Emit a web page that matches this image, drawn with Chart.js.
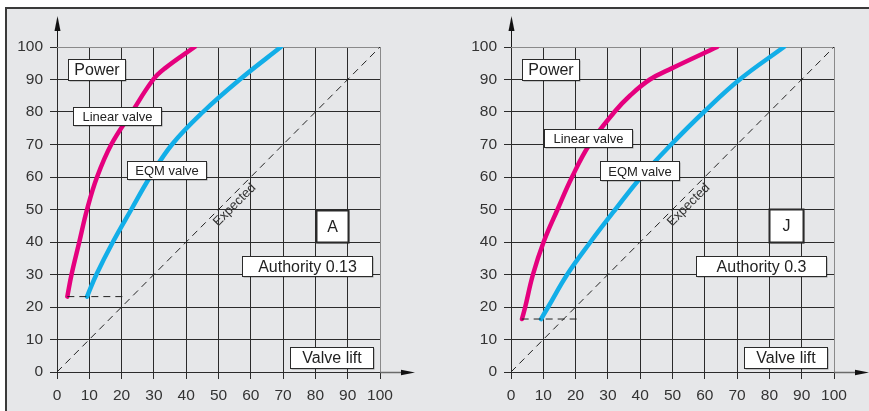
<!DOCTYPE html>
<html>
<head>
<meta charset="utf-8">
<script src="https://cdn.jsdelivr.net/npm/chart.js@4.4.1/dist/chart.umd.min.js"></script>
<style>
  html, body { margin: 0; padding: 0; background: #fff; }
  body { width: 869px; height: 411px; overflow: hidden; position: relative; }
  #frame { position: absolute; left: 5px; top: 7px; width: 900px; height: 430px;
           background: #e6e7e9; border-left: 2px solid #3a3a3a; border-top: 2px solid #3a3a3a; }
  canvas { position: absolute; top: 0; }
  #leftChart { left: 0; }
  #rightChart { left: 434px; }
</style>
</head>
<body>
<div id="frame"></div>
<canvas id="leftChart" width="434" height="411"></canvas>
<canvas id="rightChart" width="435" height="411"></canvas>
<script>
// ----------------------------------------
// Valve characteristics - Power vs Valve lift
// ----------------------------------------

const FONT = '"Liberation Sans", Arial, Helvetica, sans-serif';
const PINK = '#e5007e';
const BLUE = '#12aee8';

// Axis ticks (both axes, both panels)
const axisTicks = [0, 10, 20, 30, 40, 50, 60, 70, 80, 90, 100];

// Expected (ideal) characteristic
const expectedLift = [0, 100];
const expectedPower = [0, 100];

// Panel A - authority 0.13
const leftLinearLift = [3.2, 4.5, 6.9, 9.3, 12.4, 16.8, 23.2, 29.8, 33.5, 42.6];
const leftLinearPower = [23.2, 30, 40, 50, 60, 70, 80, 90, 93.5, 100];
const leftEqmLift = [9.3, 12.2, 17.3, 23.0, 28.8, 35.6, 45.2, 56.6, 69.3];
const leftEqmPower = [23.2, 30, 40, 50, 60, 70, 80, 90, 100];
const leftStartLift = [3.2, 20.5];
const leftStartPower = [23.2, 23.2];

// Panel J - authority 0.3
const rightLinearLift = [3.4, 4.4, 6.8, 10.1, 14.4, 18.9, 24.3, 32.0, 36.8, 43.0, 49.9, 63.8];
const rightLinearPower = [16.3, 20, 30, 40, 50, 60, 70, 80, 85, 90, 93.5, 100];
const rightEqmLift = [9.3, 11.5, 17.4, 24.6, 32.3, 40.3, 49.6, 59.7, 70.8, 84.5];
const rightEqmPower = [16.3, 20, 30, 40, 50, 60, 70, 80, 90, 100];
const rightStartLift = [3.3, 20.7];
const rightStartPower = [16.3, 16.3];

const toPoints = (xs, ys) => xs.map((x, i) => ({ x: x, y: ys[i] }));

// Draws the axis arrows, the label boxes and the rotated "Expected" text
const diagramDecor = {
    id: 'diagramDecor',
    afterDatasetsDraw(chart, args, opts) {
        const { ctx, chartArea: a, scales } = chart;
        const px = v => scales.x.getPixelForValue(v);
        const py = v => scales.y.getPixelForValue(v);
        const x0 = Math.round(a.left) + 0.5;
        const y0 = Math.round(a.bottom) + 0.5;
        ctx.save();

        // y axis extension + arrow
        ctx.strokeStyle = '#1a1a1a';
        ctx.lineWidth = 1;
        ctx.beginPath();
        ctx.moveTo(x0, a.top);
        ctx.lineTo(x0, a.top - 22);
        ctx.stroke();
        ctx.fillStyle = '#111';
        ctx.beginPath();
        ctx.moveTo(x0, a.top - 31);
        ctx.lineTo(x0 - 3, a.top - 16);
        ctx.lineTo(x0 + 3, a.top - 16);
        ctx.closePath();
        ctx.fill();

        // x axis extension + arrow
        ctx.strokeStyle = '#6a6a6a';
        ctx.lineWidth = 1.5;
        ctx.beginPath();
        ctx.moveTo(a.right, y0);
        ctx.lineTo(a.right + 24, y0);
        ctx.stroke();
        ctx.fillStyle = '#111';
        ctx.beginPath();
        ctx.moveTo(a.right + 35, y0);
        ctx.lineTo(a.right + 21, y0 - 2.8);
        ctx.lineTo(a.right + 21, y0 + 2.8);
        ctx.closePath();
        ctx.fill();

        // "Expected" along the diagonal
        ctx.save();
        ctx.translate(px(opts.expected.x), py(opts.expected.y));
        ctx.rotate(-Math.PI / 4);
        ctx.font = '13px ' + FONT;
        ctx.fillStyle = '#333';
        ctx.textAlign = 'center';
        ctx.textBaseline = 'middle';
        ctx.fillText('Expected', 0, 0);
        ctx.restore();

        // label boxes
        opts.notes.forEach(n => {
            const bx = Math.round(px(n.x)) + 0.5;
            const by = Math.round(py(n.y)) + 0.5;
            ctx.fillStyle = 'rgba(0,0,0,0.35)';
            ctx.fillRect(bx + 1, by + 1, n.w, n.h);
            ctx.fillStyle = '#fff';
            ctx.fillRect(bx, by, n.w, n.h);
            ctx.strokeStyle = '#2a2a2a';
            ctx.lineWidth = n.bold ? 2 : 1;
            ctx.strokeRect(bx, by, n.w, n.h);
            ctx.font = n.size + 'px ' + FONT;
            ctx.fillStyle = '#222';
            ctx.textAlign = 'center';
            ctx.textBaseline = 'middle';
            ctx.fillText(n.text, bx + n.w / 2, by + n.h / 2 + 1);
        });

        ctx.restore();
    }
};

function axisOptions(extra) {
    return Object.assign({
        type: 'linear',
        min: 0,
        max: 100,
        afterBuildTicks: s => { s.ticks = axisTicks.map(v => ({ value: v })); },
        border: { display: false },
        grid: {
            color: c => (c.tick && c.tick.value === 100) ? '#8a8a8a' : '#2b2b2b',
            lineWidth: 1,
            drawTicks: true,
            tickLength: 7,
            tickColor: '#2b2b2b'
        },
        ticks: {
            color: '#333',
            font: { size: 15.5, family: FONT },
            padding: 7,
            autoSkip: false,
            maxRotation: 0
        }
    }, extra);
}

function buildChart(canvasId, panel) {
    return new Chart(document.getElementById(canvasId), {
        type: 'scatter',
        data: {
            datasets: [
                {
                    label: 'Expected',
                    data: toPoints(expectedLift, expectedPower),
                    showLine: true,
                    borderColor: '#222',
                    borderWidth: 1,
                    borderDash: [7, 5],
                    pointRadius: 0
                },
                {
                    label: 'Start',
                    data: toPoints(panel.startLift, panel.startPower),
                    showLine: true,
                    borderColor: '#222',
                    borderWidth: 1,
                    borderDash: [7, 5],
                    pointRadius: 0
                },
                {
                    label: 'EQM valve',
                    data: toPoints(panel.eqmLift, panel.eqmPower),
                    showLine: true,
                    borderColor: BLUE,
                    borderWidth: 4.5,
                    borderCapStyle: 'round',
                    tension: 0.4,
                    pointRadius: 0
                },
                {
                    label: 'Linear valve',
                    data: toPoints(panel.linearLift, panel.linearPower),
                    showLine: true,
                    borderColor: PINK,
                    borderWidth: 4.5,
                    borderCapStyle: 'round',
                    tension: 0.4,
                    pointRadius: 0
                }
            ]
        },
        options: {
            responsive: false,
            animation: false,
            layout: { padding: panel.padding },
            plugins: {
                legend: { display: false },
                tooltip: { enabled: false },
                diagramDecor: { notes: panel.notes, expected: { x: 55, y: 51.4 } }
            },
            scales: {
                x: axisOptions({ position: 'bottom', afterFit: s => { s.height = 39; } }),
                y: axisOptions({ position: 'left', afterFit: s => { s.width = panel.yWidth; } })
            }
        },
        plugins: [diagramDecor]
    });
}

buildChart('leftChart', {
    linearLift: leftLinearLift, linearPower: leftLinearPower,
    eqmLift: leftEqmLift, eqmPower: leftEqmPower,
    startLift: leftStartLift, startPower: leftStartPower,
    yWidth: 57,
    padding: { left: 0, top: 47, right: 54, bottom: 0 },
    notes: [
        { text: 'Power', x: 3.4, y: 96.3, w: 57, h: 21, size: 16 },
        { text: 'Linear valve', x: 5.0, y: 81.5, w: 88, h: 18, size: 13 },
        { text: 'EQM valve', x: 21.8, y: 64.9, w: 79, h: 18, size: 13 },
        { text: 'A', x: 80.1, y: 49.8, w: 32, h: 32, size: 16, bold: true },
        { text: 'Authority 0.13', x: 57.3, y: 35.8, w: 130, h: 20, size: 16 },
        { text: 'Valve lift', x: 72.0, y: 7.7, w: 83, h: 21, size: 16 }
    ]
});

buildChart('rightChart', {
    linearLift: rightLinearLift, linearPower: rightLinearPower,
    eqmLift: rightEqmLift, eqmPower: rightEqmPower,
    startLift: rightStartLift, startPower: rightStartPower,
    yWidth: 77,
    padding: { left: 0, top: 47, right: 35, bottom: 0 },
    notes: [
        { text: 'Power', x: 3.4, y: 96.3, w: 57, h: 21, size: 16 },
        { text: 'Linear valve', x: 10.35, y: 74.7, w: 88, h: 18, size: 13 },
        { text: 'EQM valve', x: 27.4, y: 64.9, w: 79, h: 19, size: 13 },
        { text: 'J', x: 79.9, y: 50.2, w: 34, h: 33, size: 16, bold: true },
        { text: 'Authority 0.3', x: 57.3, y: 35.8, w: 130, h: 20, size: 16 },
        { text: 'Valve lift', x: 72.1, y: 7.7, w: 83, h: 21, size: 16 }
    ]
});
</script>
</body>
</html>
